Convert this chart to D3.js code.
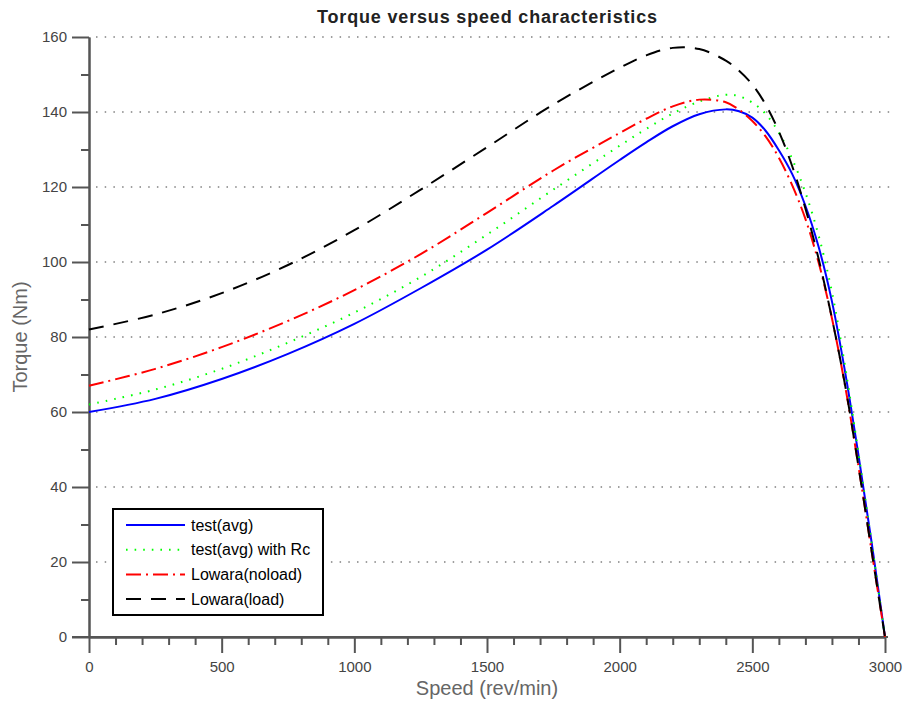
<!DOCTYPE html>
<html>
<head>
<meta charset="utf-8">
<script src="https://cdn.jsdelivr.net/npm/d3@7"></script>
<style>
body { margin: 0; background: #fff; }
text { font-family: "Liberation Sans", Arial, sans-serif; }
</style>
</head>
<body>
<svg id="chart" width="905" height="706"></svg>
<script>
// speeds (rev/min) shared by all curves
var speed = [0, 250, 500, 750, 1000, 1250, 1500, 1750, 2000, 2100, 2200, 2300, 2400, 2450, 2500, 2550, 2600, 2650, 2700, 2750, 2800, 2850, 2900, 2950, 3000];

// torque (Nm)
var testAvg    = [60, 63.5, 68.8, 75.5, 83.5, 93, 103.3, 115, 127.2, 131.9, 136.2, 139.4, 140.7, 140.2, 138.5, 135, 129.8, 123.5, 115, 104, 89.5, 70.5, 48.5, 25, 0];
var testAvgRc  = [62, 66, 71.5, 78.5, 86.5, 96, 107.3, 119.3, 131, 135.5, 139.6, 142.8, 144.6, 144.2, 142.5, 139.5, 134.5, 127.5, 118.5, 107, 92, 72, 49, 25, 0];
var lowaraNo   = [67, 71.5, 77.3, 84.3, 92.5, 102.1, 113.1, 124.4, 134.4, 138.2, 141.5, 143.3, 142.6, 140.6, 137.6, 133.5, 127.8, 120.5, 111.5, 99.8, 85, 66.8, 45.5, 22.7, 0];
var lowaraLoad = [82, 86, 91.7, 99.2, 108.5, 119.3, 130.6, 142, 151.8, 155.1, 157.1, 156.8, 153.7, 151, 147.3, 142, 134.8, 125.6, 114.3, 100.8, 85, 67, 45.5, 22.7, 0];

var seriesNames = ['test(avg)', 'test(avg) with Rc', 'Lowara(noload)', 'Lowara(load)'];
var xTicks = [0, 500, 1000, 1500, 2000, 2500, 3000];
var yTicks = [0, 20, 40, 60, 80, 100, 120, 140, 160];

var styles = [
	{color: '#0000ff', dash: null},
	{color: '#00ff00', dash: '1.6,7'},
	{color: '#ff0000', dash: '15,5,2,5'},
	{color: '#000000', dash: '15,10'}
];

var svg = d3.select('#chart');
var plotLeft = 89, plotRight = 885, plotTop = 37, plotBottom = 637;

var x = d3.scaleLinear().domain([0, 3000]).range([plotLeft, plotRight]);
var y = d3.scaleLinear().domain([0, 160]).range([plotBottom, plotTop]);

// grid lines (horizontal only)
svg.append('g').selectAll('line')
	.data(yTicks.filter(function (d) { return d > 0; }))
	.enter().append('line')
	.attr('x1', plotLeft + 7).attr('x2', plotRight + 5)
	.attr('y1', function (d) { return y(d); })
	.attr('y2', function (d) { return y(d); })
	.attr('stroke', '#808080')
	.attr('stroke-width', 1.5)
	.attr('stroke-dasharray', '1.5,7.2');

// minor ticks
var yMinor = d3.range(10, 160, 20);
var xMinor = d3.range(100, 3000, 100).filter(function (d) { return d % 500 !== 0; });

var axisColor = '#555';

var gyMinor = svg.append('g').attr('transform', 'translate(' + plotLeft + ',0)')
	.call(d3.axisLeft(y).tickValues(yMinor).tickSize(8).tickSizeOuter(0).tickFormat(''));
var gxMinor = svg.append('g').attr('transform', 'translate(0,' + plotBottom + ')')
	.call(d3.axisBottom(x).tickValues(xMinor).tickSize(8).tickSizeOuter(0).tickFormat(''));

var gy = svg.append('g').attr('transform', 'translate(' + plotLeft + ',0)')
	.call(d3.axisLeft(y).tickValues(yTicks).tickSize(17).tickSizeOuter(0).tickPadding(5).tickFormat(d3.format('d')));
var gx = svg.append('g').attr('transform', 'translate(0,' + plotBottom + ')')
	.call(d3.axisBottom(x).tickValues(xTicks).tickSize(16).tickSizeOuter(0).tickPadding(8).tickFormat(d3.format('d')));

[gyMinor, gxMinor, gy, gx].forEach(function (g) {
	g.selectAll('path.domain').attr('stroke', axisColor).attr('stroke-width', 2);
	g.selectAll('line').attr('stroke', axisColor).attr('stroke-width', 2);
	g.selectAll('text')
		.attr('fill', '#444')
		.style('font-size', '15px')
		.style('font-family', '"Liberation Sans", Arial, sans-serif');
});
// x axis line reaches a bit past both ends
svg.append('line')
	.attr('x1', plotLeft - 17).attr('x2', plotRight + 3)
	.attr('y1', plotBottom).attr('y2', plotBottom)
	.attr('stroke', axisColor).attr('stroke-width', 2);

// curves
var allSeries = [testAvg, testAvgRc, lowaraNo, lowaraLoad];
var line = d3.line()
	.x(function (d) { return x(d[0]); })
	.y(function (d) { return y(d[1]); })
	.curve(d3.curveCatmullRom.alpha(0.5));

svg.append('g').selectAll('path')
	.data(allSeries)
	.enter().append('path')
	.attr('d', function (vals) { return line(speed.map(function (s, i) { return [s, vals[i]]; })); })
	.attr('fill', 'none')
	.attr('stroke', function (d, i) { return styles[i].color; })
	.attr('stroke-width', 2)
	.attr('stroke-dasharray', function (d, i) { return styles[i].dash; });

// title and labels
svg.append('text')
	.attr('x', (plotLeft + plotRight) / 2).attr('y', 23)
	.attr('text-anchor', 'middle')
	.attr('textLength', 340).attr('lengthAdjust', 'spacing')
	.style('font-size', '18px').style('font-weight', 'bold')
	.attr('fill', '#222')
	.text('Torque versus speed characteristics');

svg.append('text')
	.attr('x', (plotLeft + plotRight) / 2).attr('y', 695)
	.attr('text-anchor', 'middle')
	.style('font-size', '20px')
	.attr('fill', '#666')
	.text('Speed (rev/min)');

svg.append('text')
	.attr('transform', 'translate(27,' + ((plotTop + plotBottom) / 2) + ') rotate(-90)')
	.attr('text-anchor', 'middle')
	.style('font-size', '20px')
	.attr('fill', '#666')
	.text('Torque (Nm)');

// legend
var legend = svg.append('g').attr('transform', 'translate(113,509)');
legend.append('rect')
	.attr('width', 210).attr('height', 106)
	.attr('fill', '#fff')
	.attr('stroke', '#000').attr('stroke-width', 2);

var rows = legend.selectAll('g.row')
	.data(seriesNames)
	.enter().append('g')
	.attr('class', 'row')
	.attr('transform', function (d, i) { return 'translate(0,' + (16 + i * 24.7) + ')'; });
rows.append('line')
	.attr('x1', 13).attr('x2', 72)
	.attr('stroke', function (d, i) { return styles[i].color; })
	.attr('stroke-width', 2)
	.attr('stroke-dasharray', function (d, i) { return styles[i].dash; });
rows.append('text')
	.attr('x', 78).attr('y', 5.5)
	.style('font-size', '16px')
	.attr('fill', '#000')
	.text(function (d) { return d; });
</script>
</body>
</html>
